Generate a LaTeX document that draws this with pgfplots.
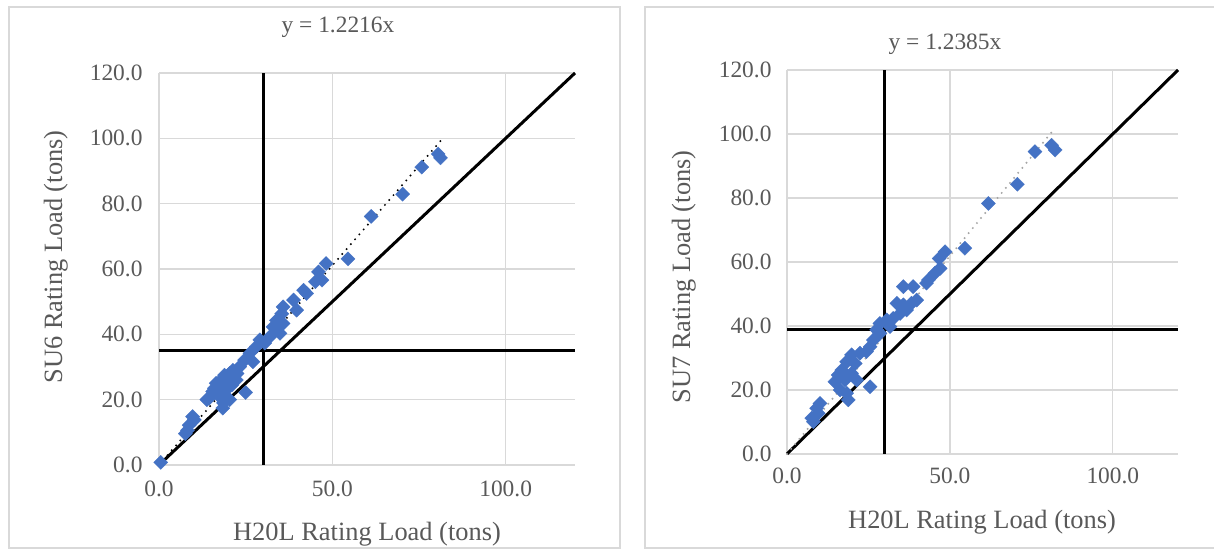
\documentclass[border=0pt]{standalone}
\usepackage{fontspec}
\setmainfont{Liberation Serif}
\usepackage{pgfplots}
\pgfplotsset{compat=1.18}
\definecolor{mk}{HTML}{4472C4}
\definecolor{txt}{HTML}{595959}
\definecolor{grd}{HTML}{D9D9D9}
\definecolor{frm}{HTML}{D9D9D9}
\definecolor{tr2}{HTML}{A5A5A5}
\pgfplotsset{
  myaxis/.style={
    scale only axis,
    xmin=0, xmax=120, ymin=0, ymax=120,
    xtick={0,50,100}, xticklabels={0.0,50.0,100.0},
    ytick={0,20,40,60,80,100,120},
    yticklabels={0.0,20.0,40.0,60.0,80.0,100.0,120.0},
    major tick length=0pt,
    axis line style={draw=none},
    grid=major,
    major grid style={grd, line width=1.2bp},
    tick label style={font=\fontsize{23.5}{28}\selectfont, text=txt},
    clip=false,
  },
  refline/.style={black, line width=3bp, no marks},
  pts/.style={only marks, mark=square*, mark size=5bp,
    mark options={rotate=45, fill=mk, draw=mk, line width=0.3bp}},
}
\begin{document}
\begin{tikzpicture}[x=1bp,y=1bp]
\useasboundingbox (0,0) rectangle (1214,550);
\fill[white] (0,0) rectangle (1214,550);
\draw[frm, line width=1.2bp] (9,2) rectangle (620,543);
\draw[frm, line width=1.2bp] (645,2) rectangle (1220,543);

% Left chart
\begin{axis}[myaxis, at={(159bp,85bp)}, anchor=south west,
  width=416bp, height=392bp,
  xticklabel style={yshift=-12bp}, yticklabel style={xshift=-13bp}]
\addplot[refline] coordinates {(0,0) (120,120)};
\addplot[refline] coordinates {(30,0) (30,120)};
\addplot[refline] coordinates {(0,35) (120,35)};
\addplot[pts] coordinates {
(0.5,0.8) (7.6,9.6) (8.2,10.6) (8.7,12.2) (9.7,14.8) (10.2,13.8)
(13.8,20.0) (14.5,20.5) (15.5,22.5) (16.0,23.5) (16.5,25.0) (17.0,24.0)
(17.4,21.0) (17.9,26.0) (18.4,17.4) (18.6,19.0) (18.9,27.5) (19.4,23.0)
(19.8,25.0) (20.4,20.0) (20.4,28.0) (21.3,29.0) (21.0,24.5) (22.3,26.0)
(22.5,28.0) (23.3,30.1) (24.7,32.1) (25.0,22.2) (26.2,34.2) (27.1,31.6)
(28.1,36.3) (29.1,38.3) (30.5,37.3) (32.0,39.3) (32.9,42.3) (33.9,44.3)
(34.9,40.3) (35.4,46.3) (35.8,43.3) (35.8,48.4) (38.8,50.5) (39.7,47.4)
(41.7,53.5) (42.6,52.5) (45.1,56.1) (46.0,59.1) (47.0,56.6) (48.2,61.7)
(54.5,63.1) (61.2,76.1) (70.3,82.9) (75.8,91.2) (80.5,95.2) (81.2,94.0)
};
\addplot[black, line width=2.2bp, line cap=round, dash pattern=on 0bp off 6.5bp, no marks]
  coordinates {(0,0) (81.3,99.3)};
\end{axis}

% Right chart
\begin{axis}[myaxis, at={(787bp,96bp)}, anchor=south west,
  width=391bp, height=384bp,
  xticklabel style={yshift=-10bp}, yticklabel style={xshift=-12bp}]
\addplot[refline] coordinates {(0,0) (120,120)};
\addplot[refline] coordinates {(30,0) (30,120)};
\addplot[refline] coordinates {(0,39) (120,39)};
\addplot[pts] coordinates {
(7.6,11.2) (8.1,10.1) (9.1,14.3) (9.6,12.7) (10.1,15.8)
(14.7,22.6) (15.7,24.7) (16.3,20.0) (16.8,26.2) (17.8,23.1) (18.3,19.0)
(18.3,28.8) (18.8,16.9) (19.8,25.2) (19.8,31.0) (20.9,28.3) (21.4,23.1)
(22.4,31.5) (24.4,32.0) (25.5,21.0) (25.5,33.5) (26.5,35.6) (27.5,38.8)
(28.5,37.7) (28.5,40.8) (30.6,41.9) (31.6,39.8) (32.6,42.4) (33.7,47.1)
(34.7,43.9) (35.7,46.6) (35.7,52.3) (36.7,45.0) (38.2,47.1) (38.7,52.3)
(39.8,48.1) (42.8,53.4) (43.4,54.4) (45.4,56.5) (46.7,61.1) (47.0,58.0)
(48.5,63.2) (54.6,64.3) (61.8,78.3) (70.7,84.3) (76.1,94.5) (81.2,96.5)
(82.3,95.0)
};
\addplot[tr2, line width=2.2bp, line cap=round, dash pattern=on 0bp off 6.5bp, no marks]
  coordinates {(0,0) (82.3,101.9)};
\end{axis}

% Texts
\node[text=txt, font=\fontsize{23.5}{28}\selectfont, anchor=base] at (338,517) {y = 1.2216x};
\node[text=txt, font=\fontsize{23.5}{28}\selectfont, anchor=base] at (945,500) {y = 1.2385x};
\node[text=txt, font=\fontsize{26.5}{32}\selectfont, anchor=base] at (367,9) {H20L Rating Load (tons)};
\node[text=txt, font=\fontsize{26.5}{32}\selectfont, anchor=base] at (982,21) {H20L Rating Load (tons)};
\node[text=txt, font=\fontsize{26.5}{32}\selectfont, anchor=base, rotate=90] at (62,293) {SU6 Rating Load (tons)};
\node[text=txt, font=\fontsize{26.5}{32}\selectfont, anchor=base, rotate=90] at (690,273) {SU7 Rating Load (tons)};
\end{tikzpicture}
\end{document}
